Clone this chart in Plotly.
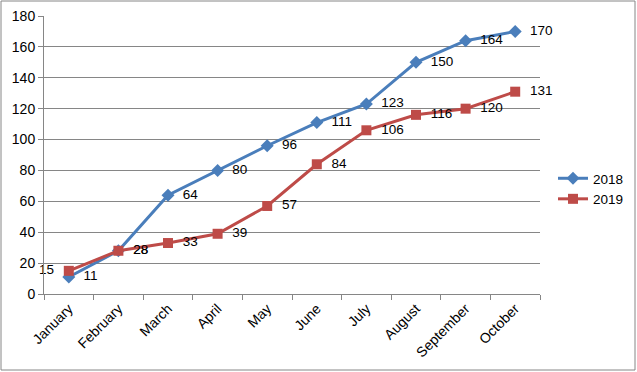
import plotly.graph_objects as go

months = ["January", "February", "March", "April", "May", "June", "July",
          "August", "September", "October"]
s2018 = [11, 28, 64, 80, 96, 111, 123, 150, 164, 170]
s2019 = [15, 28, 33, 39, 57, 84, 106, 116, 120, 131]
y_ticks = [0, 20, 40, 60, 80, 100, 120, 140, 160, 180]

W, H = 637, 372
L, R, T, B = 44, 97, 16, 78
pw, ph = W - L - R, H - T - B

font = dict(family="Liberation Sans, Arial, sans-serif", size=13.5, color="#000000")
tickfont = dict(family="Liberation Sans, Arial, sans-serif", size=14, color="#000000")

fig = go.Figure()
fig.add_trace(go.Scatter(
    x=months, y=s2018, name="2018", mode="lines+markers+text",
    line=dict(color="#4A7EBB", width=3),
    marker=dict(symbol="diamond", size=10, color="#4A7EBB"),
    text=[f"  {v}" for v in s2018], textposition="middle right",
    textfont=font, cliponaxis=False,
))
pos2019 = ["middle left"] + ["middle right"] * (len(s2019) - 1)
txt2019 = [f"{s2019[0]}  "] + [f"  {v}" for v in s2019[1:]]
fig.add_trace(go.Scatter(
    x=months, y=s2019, name="2019", mode="lines+markers+text",
    line=dict(color="#BE4B48", width=3),
    marker=dict(symbol="square", size=10, color="#BE4B48"),
    text=txt2019, textposition=pos2019,
    textfont=font, cliponaxis=False,
))

fig.update_layout(
    width=W, height=H,
    margin=dict(l=L, r=R, t=T, b=B, autoexpand=False),
    paper_bgcolor="white", plot_bgcolor="white",
    font=font,
    showlegend=True,
    legend=dict(x=(553 - L) / pw, y=(294 - 163) / ph, xanchor="left", yanchor="top",
                font=dict(family="Liberation Sans, Arial, sans-serif", size=13.5),
                bgcolor="rgba(0,0,0,0)", tracegroupgap=4),
    xaxis=dict(
        type="category", showgrid=False, showline=True, linecolor="#868686",
        linewidth=1, ticks="outside", tickson="boundaries", ticklen=5,
        tickcolor="#868686", tickangle=-45, tickfont=tickfont, automargin=False,
        range=[-0.5, len(months) - 0.5],
    ),
    yaxis=dict(
        range=[0, 180], tickvals=y_ticks, showgrid=True, gridcolor="#868686",
        gridwidth=1, showline=True, linecolor="#868686", linewidth=1,
        ticks="outside", ticklen=5, tickcolor="#868686", zeroline=False,
        tickfont=tickfont, automargin=False,
    ),
    shapes=[dict(
        type="rect", xref="paper", yref="paper",
        x0=(1 - L) / pw, x1=(635 - L) / pw,
        y0=(294 - 370) / ph, y1=(294 - 1) / ph,
        line=dict(color="#868686", width=1), fillcolor="rgba(0,0,0,0)",
    )],
)

fig.write_html("out.html", config={"displayModeBar": False},
               post_script="document.body.style.margin='0';document.body.style.overflow='hidden';")
